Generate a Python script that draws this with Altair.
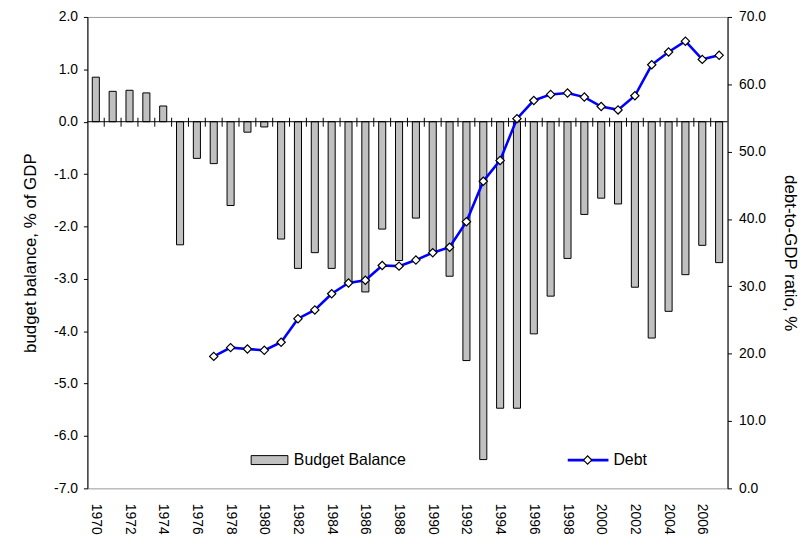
import altair as alt
import pandas as pd

years = list(range(1970, 2008))
budget_balance = [0.85, 0.58, 0.60, 0.55, 0.30, -2.35, -0.70, -0.80, -1.60, -0.20,
                  -0.10, -2.24, -2.80, -2.50, -2.80, -3.05, -3.25, -2.05, -2.65, -1.84,
                  -2.47, -2.95, -4.56, -6.45, -5.47, -5.47, -4.05, -3.33, -2.61, -1.77,
                  -1.46, -1.57, -3.16, -4.13, -3.62, -2.92, -2.36, -2.69]
debt_years = list(range(1977, 2008))
debt = [19.6, 20.9, 20.7, 20.5, 21.7, 25.2, 26.5, 28.9, 30.5, 30.9,
        33.1, 33.0, 33.9, 35.0, 35.8, 39.6, 45.6, 48.7, 54.9, 57.6,
        58.5, 58.7, 58.1, 56.7, 56.2, 58.3, 62.9, 64.8, 66.4, 63.7, 64.3]
left_ticks = [-7, -6, -5, -4, -3, -2, -1, 0, 1, 2]
right_ticks = [0, 10, 20, 30, 40, 50, 60, 70]
legend_labels = ["Budget Balance", "Debt"]

FONT = "Liberation Sans"
bb_df = pd.DataFrame({"year": years, "bb": budget_balance})
debt_df = pd.DataFrame({"year": debt_years, "debt": debt})
tick_df = pd.DataFrame({"year": years[1:]})
one = pd.DataFrame({"k": [0]})

xscale = alt.Scale(domain=years, paddingInner=0.58, paddingOuter=0.29)
yleft = alt.Scale(domain=[-7, 2], nice=False, zero=False)
yright = alt.Scale(domain=[0, 70], nice=False)
fmt = "replace(format(datum.value, '.1f'), '\u2212', '-')"

xaxis = alt.Axis(
    labelAngle=90, labelExpr="datum.value % 2 == 0 ? datum.value : ''",
    ticks=False, domain=False, labelPadding=15, title=None, labelFontSize=14,
    labelOverlap=False, labelFont=FONT, labelColor="black", grid=False)
yaxis_left = alt.Axis(
    values=left_ticks, labelExpr=fmt, tickSize=4, tickColor="black",
    domainColor="black", labelFontSize=14, labelPadding=6, grid=False,
    title="budget balance, % of GDP", titleFontSize=17, titleFontWeight="normal",
    titlePadding=14, labelFont=FONT, titleFont=FONT, labelColor="black",
    titleColor="black", orient="left")
yaxis_right = alt.Axis(
    values=right_ticks, labelExpr=fmt, tickSize=4, tickColor="black",
    domainColor="black", labelFontSize=14, labelPadding=7, grid=False,
    title="debt-to-GDP ratio, %", titleFontSize=17, titleFontWeight="normal",
    titlePadding=15, labelFont=FONT, titleFont=FONT, labelColor="black",
    titleColor="black", orient="right")

bars = alt.Chart(bb_df).mark_bar(fill="#C0C0C0", stroke="black", strokeWidth=1).encode(
    x=alt.X("year:O", scale=xscale, axis=xaxis),
    y=alt.Y("bb:Q", scale=yleft, axis=yaxis_left),
)

zero_line = alt.Chart(one).mark_rule(color="black", strokeWidth=1).encode(
    y=alt.Y(datum=0, scale=yleft, axis=yaxis_left)
)

cat_ticks = alt.Chart(tick_df).mark_rule(color="black", strokeWidth=1, xOffset=-8.5,
                                         yOffset=-4, y2Offset=5).encode(
    x=alt.X("year:O", scale=xscale, axis=xaxis),
    y=alt.Y(datum=0, scale=yleft, axis=yaxis_left),
    y2=alt.Y2(datum=0),
)

left = alt.layer(bars, zero_line, cat_ticks)

line = alt.Chart(debt_df).mark_line(color="#0000FF", strokeWidth=2.6).encode(
    x=alt.X("year:O", scale=xscale, axis=xaxis),
    y=alt.Y("debt:Q", scale=yright, axis=yaxis_right),
)
pts = alt.Chart(debt_df).mark_point(shape="diamond", filled=True, fill="white",
                                    stroke="black", strokeWidth=1.2, size=70,
                                    opacity=1).encode(
    x=alt.X("year:O", scale=xscale, axis=xaxis),
    y=alt.Y("debt:Q", scale=yright, axis=yaxis_right),
)
right = alt.layer(line, pts)

# manual legend
leg_rect = alt.Chart(one).mark_rect(fill="#C0C0C0", stroke="black", strokeWidth=1).encode(
    x=alt.value(165), x2=alt.value(202), y=alt.value(442), y2=alt.value(451))
leg_t1 = alt.Chart(one).mark_text(align="left", baseline="middle", fontSize=16,
                                  font=FONT, color="black", text=legend_labels[0]).encode(
    x=alt.value(208), y=alt.value(446.5))
leg_line = alt.Chart(one).mark_rule(color="#0000FF", strokeWidth=2.6).encode(
    x=alt.value(484), x2=alt.value(525), y=alt.value(446.5))
leg_pt = alt.Chart(one).mark_point(shape="diamond", filled=True, fill="white",
                                   stroke="black", strokeWidth=1.2, size=70,
                                   opacity=1).encode(
    x=alt.value(504), y=alt.value(446.5))
leg_t2 = alt.Chart(one).mark_text(align="left", baseline="middle", fontSize=16,
                                  font=FONT, color="black", text=legend_labels[1]).encode(
    x=alt.value(530), y=alt.value(446.5))
legend = alt.layer(leg_rect, leg_t1, leg_line, leg_pt, leg_t2)

chart = alt.layer(left, right, legend).resolve_scale(y="independent").properties(
    width=645, height=475,
    padding={"left": 80, "top": 7, "right": 72, "bottom": 50},
    autosize=alt.AutoSizeParams(type="none"),
    background="white",
).configure_view(stroke="#999999", strokeWidth=1)

chart.save("out.html", embed_options={"renderer": "svg", "actions": False})
